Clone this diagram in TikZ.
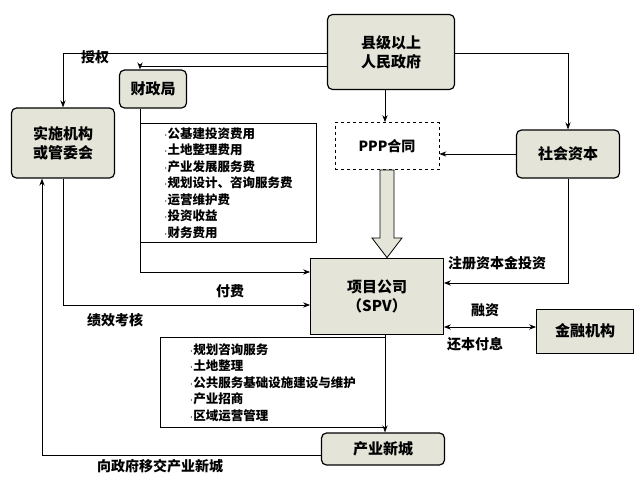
\documentclass[tikz,border=0pt]{standalone}
\usepackage{fontspec}
\setmainfont{Noto Sans CJK SC}
\usetikzlibrary{arrows.meta}
\definecolor{boxfill}{HTML}{E4E5D8}
\tikzset{
  party/.style={draw, very thick, rounded corners=5pt, fill=boxfill, align=center, font=\bfseries\fontsize{15}{19}\selectfont},
  plain/.style={draw, thick, fill=boxfill, align=center, font=\bfseries\fontsize{15}{19}\selectfont},
  flow/.style={thick, -{Stealth[length=7pt]}},
  lab/.style={font=\bfseries\fontsize{14}{16}\selectfont},
  list/.style={draw, thick, align=left, font=\bfseries\fontsize{12.5}{16.5}\selectfont, inner sep=3pt, anchor=north west}
}
\begin{document}
\begin{tikzpicture}[x=1pt,y=-1pt]
      \useasboundingbox (0,0) rectangle (640,480);

          %%  parties %%
      \node (gov) at (391,52) [party, minimum width=127pt, minimum height=75pt] {县级以上\\人民政府};
      \node (cz) at (153,89) [party, minimum width=67pt, minimum height=38pt] {财政局};
      \node (ss) at (63,143) [party, minimum width=103pt, minimum height=70pt] {实施机构\\或管委会};
      \node (ppp) at (387,146) [draw, thick, dashed, minimum width=104pt, minimum height=47pt, font=\bfseries\fontsize{14}{16}\selectfont] {PPP合同};
      \node (sh) at (568,154) [party, minimum width=103pt, minimum height=48pt] {社会资本};
      \node (spv) at (377,296) [plain, minimum width=133pt, minimum height=76pt] {项目公司\\（SPV）};
      \node (jr) at (585,331) [plain, minimum width=97pt, minimum height=44pt] {金融机构};
      \node (xc) at (383,449) [party, minimum width=123pt, minimum height=32pt] {产业新城};

          %%  item lists %%
      \node (fee) at (140,123) [list, minimum width=176pt, minimum height=119pt] {$\cdot$公基建投资费用\\$\cdot$土地整理费用\\$\cdot$产业发展服务费\\$\cdot$规划设计、咨询服务费\\$\cdot$运营维护费\\$\cdot$投资收益\\$\cdot$财务费用};
      \node (svc) at (160,337) [list, minimum width=225pt, minimum height=90pt] {$\cdot$规划咨询服务\\$\cdot$土地整理\\$\cdot$公共服务基础设施建设与维护\\$\cdot$产业招商\\$\cdot$区域运营管理};

          %%  connectors %%
      \draw[flow] (gov.west |- 0,53) -- (63,53) -- (ss.north);
      \draw[flow] (gov.west |- 0,66) -- (140,66) -- (cz.north -| 140,0);
      \draw[flow] (gov.south -| 385,0) -- (ppp.north -| 385,0);
      \draw[flow] (gov.east |- 0,53) -| (sh.north);
      \draw[flow] (sh.west) -- (ppp.east |- sh.west);
      \draw[flow] (cz.south -| 140,0) -- (140,272) -- (spv.west |- 0,272);
      \draw[flow] (ss.south) -- (63,305) -- (spv.west |- 0,305);
      \draw[flow] (sh.south) -- (568,283) -- (spv.east |- 0,283);
      \draw[thick, {Stealth[length=7pt]}-{Stealth[length=7pt]}] (spv.east |- 0,327) -- (jr.west |- 0,327);
      \draw[flow] (spv.south -| 385,0) -- (xc.north -| 385,0);
      \draw[flow] (xc.west |- 0,455) -- (42,455) -- (ss.south -| 42,0);
      % hollow arrow from the contract to the company
      \draw[thick, fill=boxfill] (ppp.south -| 380,0) -- (380,238) -- (372,238) -- (spv.north -| 387,0) -- (402,238) -- (394,238) -- (ppp.south -| 394,0) -- cycle;

          %%  labels %%
      \node (l1) at (95,57) [lab] {授权};
      \node (l2) at (230,291) [lab] {付费};
      \node (l3) at (115,320) [lab] {绩效考核};
      \node (l4) at (497,263) [lab] {注册资本金投资};
      \node (l5) at (485,310) [lab] {融资};
      \node (l6) at (475,344) [lab] {还本付息};
      \node (l7) at (160,466) [lab] {向政府移交产业新城};

        \end{tikzpicture}
\end{document}
